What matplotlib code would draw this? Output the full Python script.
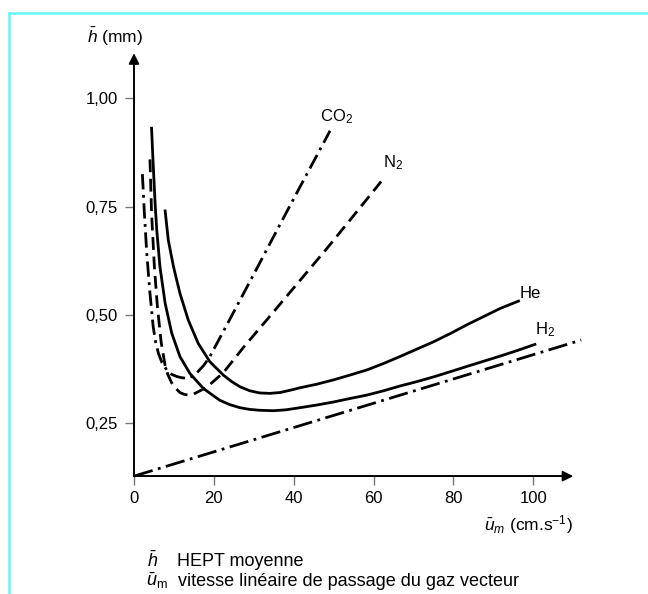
import matplotlib
matplotlib.use("Agg")
import matplotlib.pyplot as plt
from matplotlib.lines import Line2D

plt.rcParams['font.family'] = ['Liberation Sans', 'DejaVu Sans']
plt.rcParams['mathtext.fontset'] = 'custom'
plt.rcParams['mathtext.rm'] = 'Liberation Sans'
plt.rcParams['mathtext.it'] = 'Liberation Sans:italic'
plt.rcParams['mathtext.bf'] = 'Liberation Sans:bold'

# ---------------- data ----------------
co2_u = [2.1, 2.6, 3.2, 4.0, 4.8, 5.4, 6.1, 7.0, 8.2, 9.4, 10.7, 12.0, 13.2, 14.5, 15.7, 17.5, 19.0, 24.0, 30.0, 36.0, 42.0, 49.1]
co2_h = [0.825, 0.735, 0.642, 0.55, 0.473, 0.438, 0.412, 0.39, 0.373, 0.363, 0.358, 0.355, 0.354, 0.358, 0.366, 0.384, 0.404, 0.49, 0.594, 0.699, 0.803, 0.925]

n2_u = [4.0, 4.4, 5.1, 5.85, 6.8, 7.8, 8.5, 9.4, 10.4, 11.5, 12.5, 13.6, 14.6, 15.7, 18.2, 22.4, 27.4, 33.2, 41.6, 48.0, 54.1, 61.9]
n2_h = [0.859, 0.735, 0.612, 0.52, 0.437, 0.383, 0.362, 0.344, 0.331, 0.321, 0.317, 0.315, 0.316, 0.321, 0.333, 0.367, 0.425, 0.488, 0.58, 0.65, 0.719, 0.808]

he_u = [7.8, 8.6, 9.9, 11.5, 13.6, 16.1, 19.0, 22.4, 24.5, 26.6, 29.0, 31.5, 34.0, 36.6, 39.0, 41.6, 45.7, 49.9, 54.0, 58.3, 62.5, 66.6, 70.8, 75.0, 79.2, 83.3, 87.5, 91.7, 96.3]
he_h = [0.74, 0.672, 0.611, 0.55, 0.488, 0.434, 0.392, 0.361, 0.346, 0.334, 0.325, 0.32, 0.319, 0.321, 0.326, 0.332, 0.34, 0.35, 0.361, 0.373, 0.388, 0.404, 0.421, 0.438, 0.457, 0.477, 0.496, 0.515, 0.532]

h2_u = [4.4, 4.7, 5.0, 5.3, 5.7, 6.5, 7.8, 9.45, 11.5, 14.0, 17.4, 21.5, 24.0, 26.5, 29.0, 31.5, 34.9, 38.0, 41.6, 45.7, 49.9, 54.0, 58.3, 62.5, 66.6, 70.8, 75.0, 79.2, 83.3, 87.5, 91.7, 96.0, 100.4]
h2_h = [0.931, 0.868, 0.811, 0.755, 0.696, 0.611, 0.527, 0.458, 0.404, 0.365, 0.33, 0.303, 0.293, 0.286, 0.282, 0.28, 0.279, 0.281, 0.286, 0.292, 0.299, 0.307, 0.315, 0.325, 0.336, 0.346, 0.357, 0.369, 0.381, 0.393, 0.405, 0.418, 0.432]

line_u = [0, 112]
line_h = [0.128, 0.442]

labels = ['CO$_2$', 'N$_2$', 'He', 'H$_2$']
label_u = [50.6, 64.9, 99.3, 102.9]
label_h = [0.958, 0.851, 0.55, 0.465]

x_ticks = [0, 20, 40, 60, 80, 100]
x_ticklabels = ['0', '20', '40', '60', '80', '100']
y_ticks = [0.25, 0.50, 0.75, 1.00]
y_ticklabels = ['0,25', '0,50', '0,75', '1,00']

X_AXIS_AT = 0.128   # h value where the u axis is drawn
X_END = 110         # end of the u axis arrow
Y_END = 1.104       # end of the h axis arrow

# ---------------- figure ----------------
fig = plt.figure(figsize=(6.48, 5.94), dpi=100)
ax = fig.add_axes([0.20679, 0.19259, 0.70247, 0.72215])
ax.set_xlim(0, 114)
ax.set_ylim(0.12, 1.11)
ax.patch.set_visible(False)

lw = 2.0
ax.plot(co2_u, co2_h, color='black', lw=lw, dashes=(5.5, 2.0, 1.0, 2.0), clip_on=False,
        solid_joinstyle='round', dash_joinstyle='round')
ax.plot(n2_u, n2_h, color='black', lw=lw, dashes=(4.6, 2.4), clip_on=False,
        dash_joinstyle='round')
ax.plot(he_u, he_h, color='black', lw=lw, clip_on=False, solid_joinstyle='round')
ax.plot(h2_u, h2_h, color='black', lw=lw, clip_on=False, solid_joinstyle='round')
ax.plot(line_u, line_h, color='black', lw=lw, dashes=(7.0, 2.0, 1.0, 2.0), clip_on=False)

for t, u, h in zip(labels, label_u, label_h):
    ax.text(u, h, t, fontsize=12, ha='center', va='center')

# axes spines
for s in ['top', 'right']:
    ax.spines[s].set_visible(False)
ax.spines['left'].set_position(('data', 0))
ax.spines['bottom'].set_position(('data', X_AXIS_AT))
ax.spines['left'].set_bounds(X_AXIS_AT, Y_END - 0.02)
ax.spines['bottom'].set_bounds(0, X_END - 3)
ax.spines['left'].set_linewidth(1.2)
ax.spines['bottom'].set_linewidth(1.2)

ax.annotate('', xy=(0, Y_END), xytext=(0, X_AXIS_AT),
            arrowprops=dict(arrowstyle='-|>', lw=1.2, color='black',
                            mutation_scale=16, shrinkA=0, shrinkB=0))
ax.annotate('', xy=(X_END, X_AXIS_AT), xytext=(0, X_AXIS_AT),
            arrowprops=dict(arrowstyle='-|>', lw=1.2, color='black',
                            mutation_scale=16, shrinkA=0, shrinkB=0))

ax.set_xticks(x_ticks)
ax.set_xticklabels(x_ticklabels)
ax.set_yticks(y_ticks)
ax.set_yticklabels(y_ticklabels)
ax.tick_params(axis='both', direction='out', length=6.5, width=1.0,
               color='#777777', labelsize=12, labelcolor='black')
ax.tick_params(axis='x', pad=4)
ax.tick_params(axis='y', pad=5)

# axis titles
fig.text(87 / 648, 1 - 37 / 594, r'$\bar{h}$ (mm)', ha='left', va='center', fontsize=12.5)
fig.text(573 / 648, 1 - 524.5 / 594, r'$\bar{u}_m$ (cm.s$^{-1}$)', ha='right', va='center', fontsize=12.5)

# notes below
fig.text(147 / 648, 1 - 561 / 594, r'$\bar{h}$', ha='left', va='center', fontsize=13)
fig.text(177 / 648, 1 - 562 / 594, 'HEPT moyenne', ha='left', va='center', fontsize=13)
fig.text(146 / 648, 1 - 581 / 594, r'$\bar{u}_{\mathrm{m}}$', ha='left', va='center', fontsize=13)
fig.text(178 / 648, 1 - 582 / 594, 'vitesse linéaire de passage du gaz vecteur',
         ha='left', va='center', fontsize=13)

# cyan frame (top and left edges)
cyan = '#66f6f6'
fig.add_artist(Line2D([9 / 648, 1.0], [1 - 13 / 594, 1 - 13 / 594],
                      transform=fig.transFigure, color=cyan, lw=1.8))
fig.add_artist(Line2D([9 / 648, 9 / 648], [0.0, 1 - 13 / 594],
                      transform=fig.transFigure, color=cyan, lw=1.8))

fig.savefig('out.png', dpi=100)
